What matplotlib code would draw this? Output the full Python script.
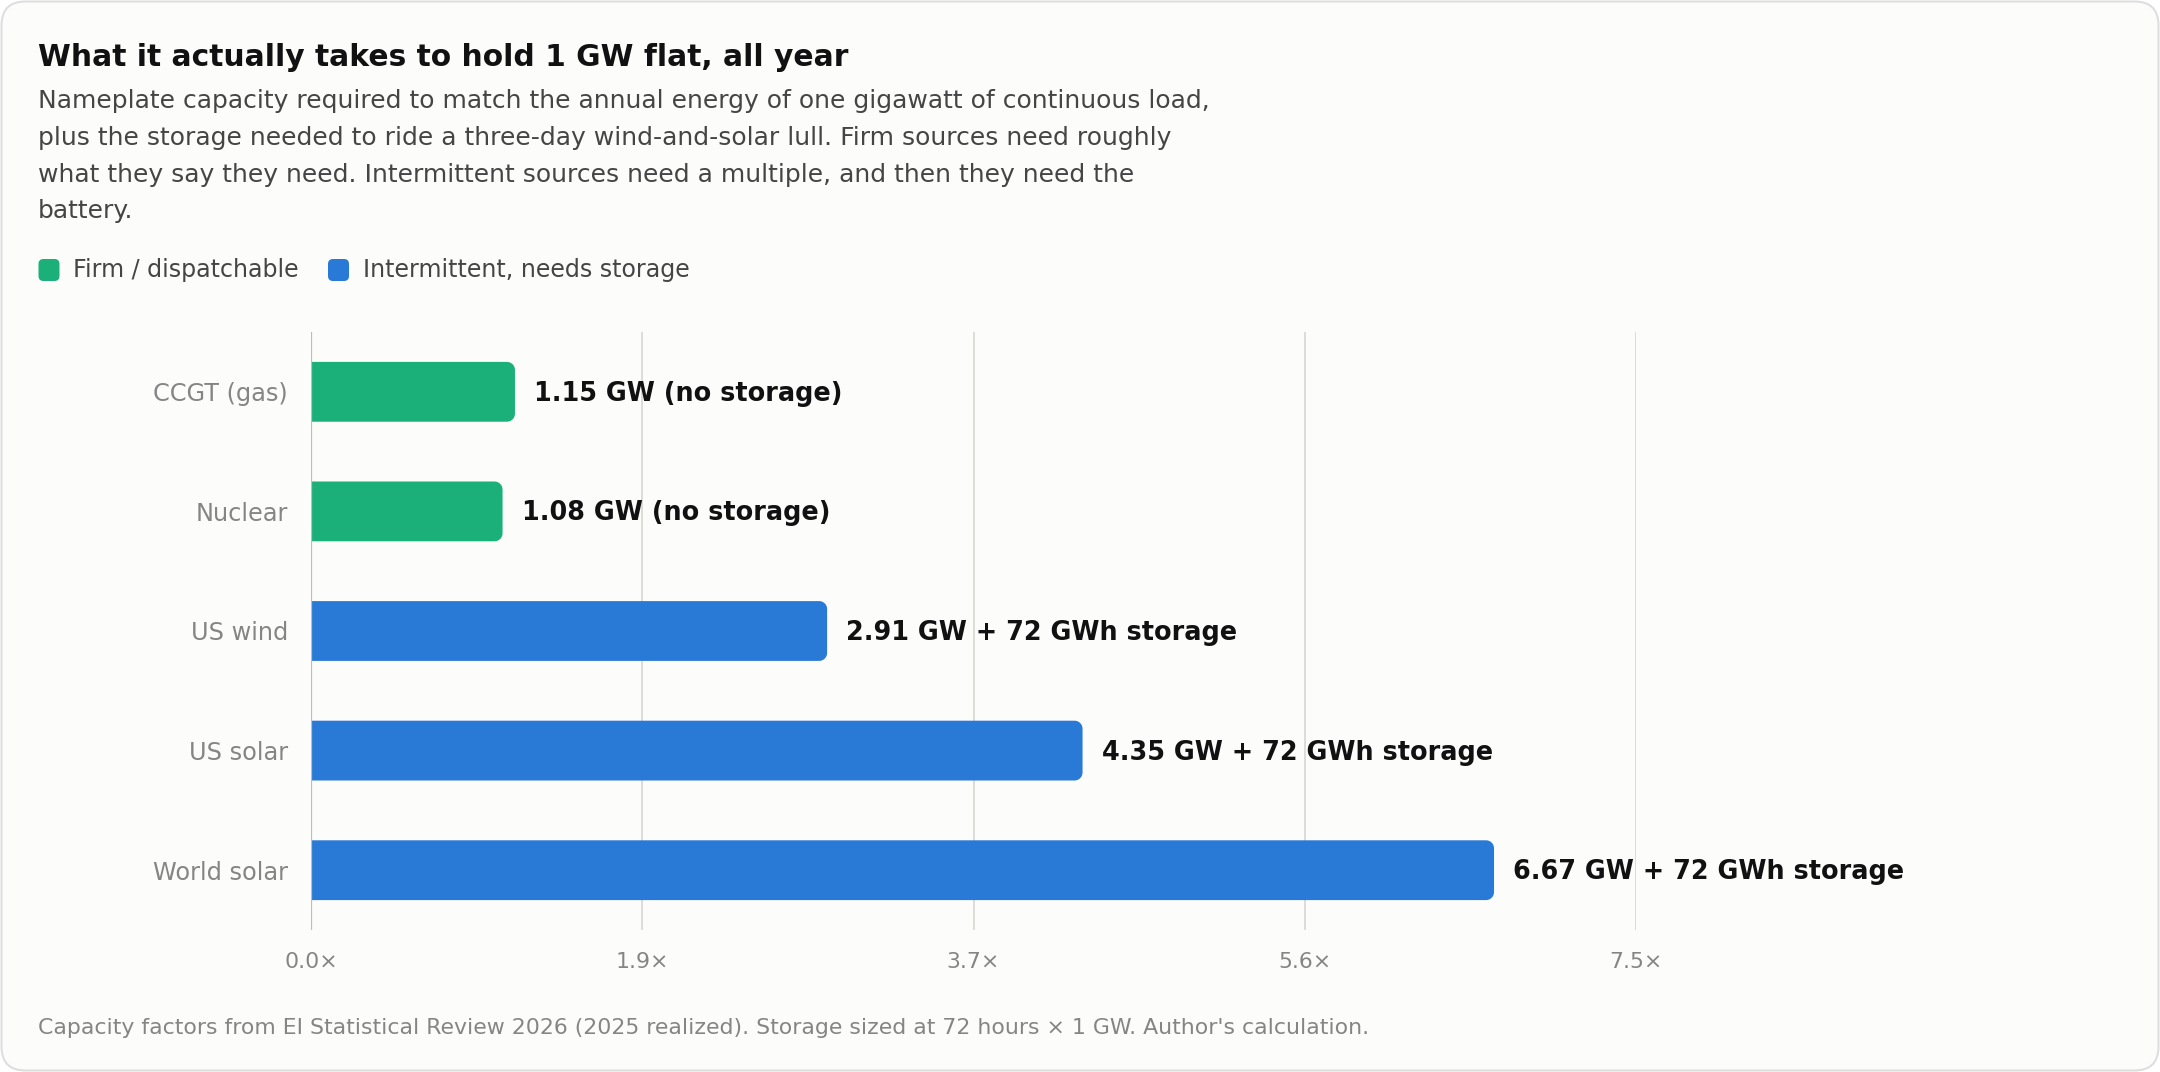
import numpy as np
import matplotlib.pyplot as plt
from matplotlib.patches import FancyBboxPatch, Polygon

# data
sources = ['CCGT (gas)', 'Nuclear', 'US wind', 'US solar', 'World solar']
capacity_gw = [1.15, 1.08, 2.91, 4.35, 6.67]
storage_gwh = [0, 0, 72, 72, 72]
firm = [True, True, False, False, False]

GREEN = '#1bb07a'
BLUE = '#2979d6'

W, H = 2160, 1072
fig = plt.figure(figsize=(W / 100, H / 100), dpi=100, facecolor='white')

# card background
card = FancyBboxPatch((1.5 / W, 1.5 / H), (W - 3) / W, (H - 3) / H,
                      boxstyle='round,pad=0,rounding_size=%f' % (24 / W),
                      mutation_aspect=W / H, transform=fig.transFigure,
                      facecolor='#fcfcfa', edgecolor='#dedede', lw=1.5, zorder=-10)
fig.patches.append(card)

x0, x1 = 311, 1636
y_top, y_bot = 332, 930
ax = fig.add_axes([x0 / W, (H - y_bot) / H, (x1 - x0) / W, (y_bot - y_top) / H])
ax.set_facecolor('none')

xmax = max(capacity_gw) * 1.12
ax.set_xlim(0, xmax)
ax.set_ylim(len(sources) - 0.5, -0.5)

ticks = np.linspace(0, xmax, 5)
for t in ticks[1:]:
    ax.axvline(t, color='#dcdcd8', lw=1.4, zorder=0)
ax.axvline(0, color='#bdbdb8', lw=1.6, zorder=3)

ypos = np.arange(len(sources))
colors = [GREEN if f else BLUE for f in firm]
bars = ax.barh(ypos, capacity_gw, height=0.5, color=colors)

# rounded right ends (square on the left)
px_x = xmax / (x1 - x0)
px_y = len(sources) / (y_bot - y_top)
rx, ry = 8 * px_x, 8 * px_y
ang = np.linspace(0, np.pi / 2, 10)
for b, c in zip(bars, colors):
    bx, by, bw, bh = b.get_x(), b.get_y(), b.get_width(), b.get_height()
    b.set_visible(False)
    ex = bx + bw - rx
    lo = [(ex + rx * np.sin(a), by + ry - ry * np.cos(a)) for a in ang]
    hi = [(ex + rx * np.cos(a), by + bh - ry + ry * np.sin(a)) for a in ang]
    pts = [(bx, by)] + lo + hi + [(bx, by + bh)]
    ax.add_patch(Polygon(pts, closed=True, facecolor=c, edgecolor='none', zorder=2))

for yv, v, s in zip(ypos, capacity_gw, storage_gwh):
    if s:
        lab = f'{v:.2f} GW + {s} GWh storage'
    else:
        lab = f'{v:.2f} GW (no storage)'
    ax.text(v + 19 * px_x, yv + 2 * px_y, lab, va='center', ha='left', fontsize=18.4,
            fontweight='bold', color='#111111')

ax.set_yticks(ypos)
ax.set_yticklabels(sources, fontsize=17.3, color='#858585')
ax.set_xticks(ticks)
ax.set_xticklabels([f'{t:.1f}×' for t in ticks], fontsize=15.8, color='#858585')
ax.tick_params(axis='y', length=0, pad=23 * 0.72)
ax.tick_params(axis='x', length=0, pad=22 * 0.72)
for sp in ax.spines.values():
    sp.set_visible(False)

# header
fig.text(38 / W, 1 - 58 / H, 'What it actually takes to hold 1 GW flat, all year',
         fontsize=21.4, fontweight='bold', color='#111111', va='center', ha='left')
subtitle = [
    'Nameplate capacity required to match the annual energy of one gigawatt of continuous load,',
    'plus the storage needed to ride a three-day wind-and-solar lull. Firm sources need roughly',
    'what they say they need. Intermittent sources need a multiple, and then they need the',
    'battery.',
]
for i, line in enumerate(subtitle):
    fig.text(38 / W, 1 - (101 + 36.8 * i) / H, line, fontsize=18.0, color='#454545',
             va='center', ha='left')

# legend
leg_y = 270
for lx, tx, c, lab in [(38.5, 73, GREEN, 'Firm / dispatchable'),
                       (328, 363, BLUE, 'Intermittent, needs storage')]:
    fig.patches.append(FancyBboxPatch((lx / W, (H - leg_y - 11) / H), 21 / W, 22 / H,
                                      boxstyle='round,pad=0,rounding_size=%f' % (5 / W),
                                      mutation_aspect=W / H, transform=fig.transFigure,
                                      facecolor=c, edgecolor='none'))
    fig.text(tx / W, 1 - leg_y / H, lab, fontsize=17.1, color='#454545', va='center', ha='left')

fig.text(38 / W, 1 - 1028 / H,
         "Capacity factors from EI Statistical Review 2026 (2025 realized). Storage sized at 72 hours × 1 GW. Author's calculation.",
         fontsize=15.8, color='#858585', va='center', ha='left')

fig.savefig('out.png', dpi=100, facecolor=fig.get_facecolor())
